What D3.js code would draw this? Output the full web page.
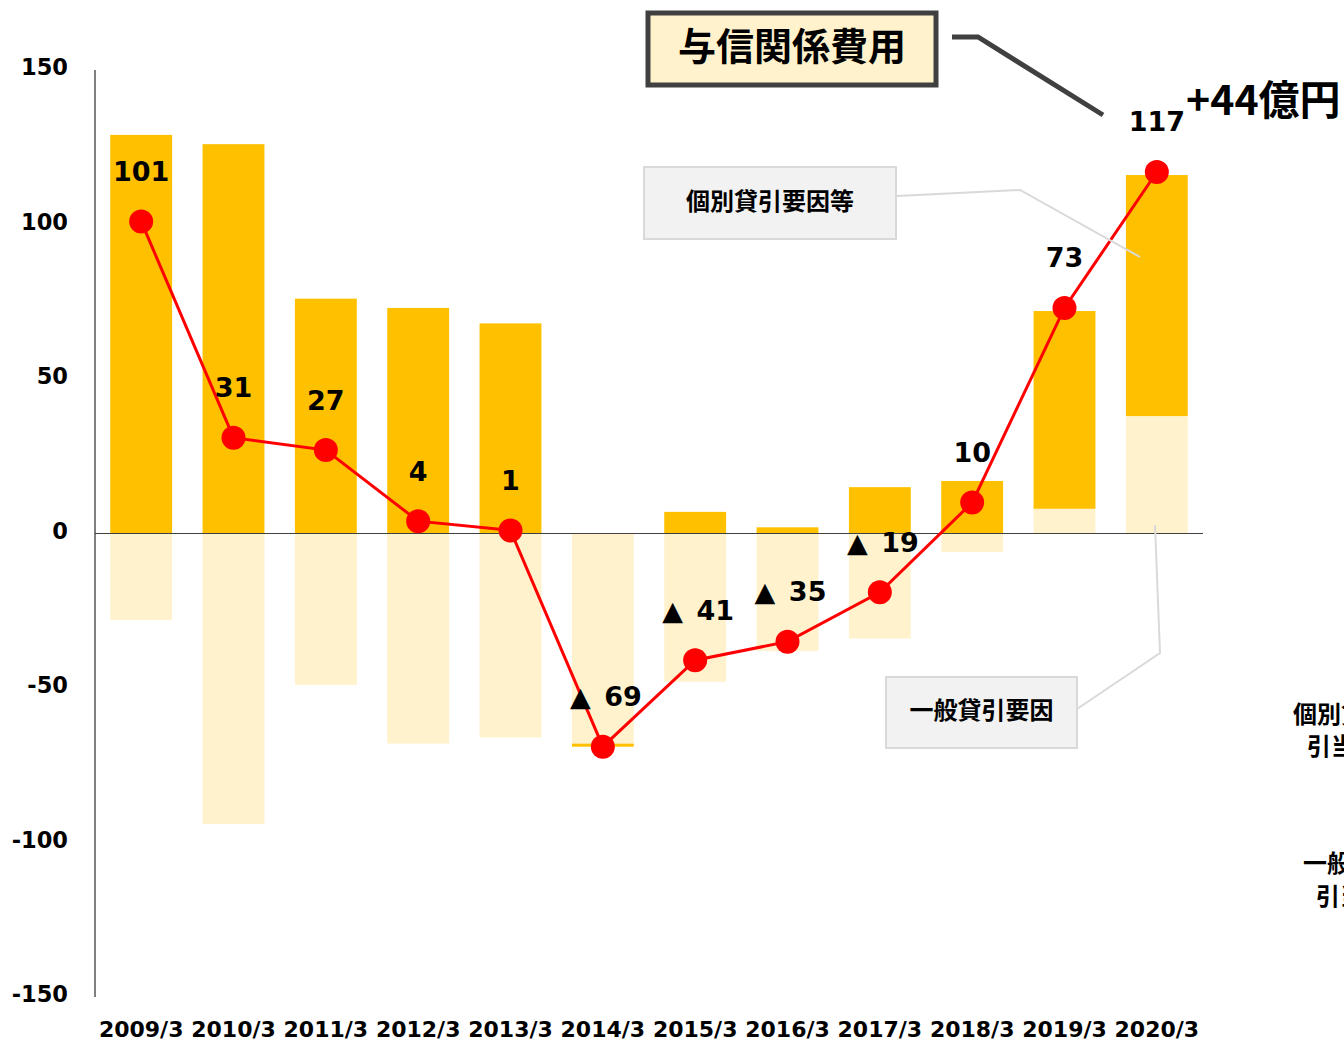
<!DOCTYPE html>
<html>
<head>
<meta charset="utf-8">
<script src="https://cdn.jsdelivr.net/npm/d3@7"></script>
<style>
  body { margin: 0; background: #fff; overflow: hidden; }
  svg { display: block; }
  text { font-family: "DejaVu Sans", "Noto Sans CJK JP", sans-serif; font-weight: bold; fill: #000; }
  .jp { font-family: "Noto Sans CJK JP", sans-serif; font-weight: 700; }
</style>
</head>
<body>
<svg id="chart"></svg>
<script>
// data
const years = ['2009/3', '2010/3', '2011/3', '2012/3', '2013/3', '2014/3',
  '2015/3', '2016/3', '2017/3', '2018/3', '2019/3', '2020/3']
// 個別貸引要因等 (dark)
const individual = [129, 126, 76, 73, 68, -1, 7, 2, 15, 17, 64, 78]
// 一般貸引要因 (light)
const general = [-28, -94, -49, -68, -66, -68, -48, -38, -34, -6, 8, 38]
// 与信関係費用 (line)
const totals = [101, 31, 27, 4, 1, -69, -41, -35, -19, 10, 73, 117]
const yTicks = [150, 100, 50, 0, -50, -100, -150]

const width = 1344
const height = 1043

const svg = d3.select('#chart')
  .attr('width', width)
  .attr('height', height)
  .attr('viewBox', [0, 0, width, height])

const x = d3.scaleBand()
  .domain(years)
  .range([95, 1203])
  .paddingInner(0.33)
  .paddingOuter(0.165)

const y = d3.scaleLinear()
  .domain([-150, 150])
  .range([997, 70])

const rows = years.map((year, i) => ({
  year,
  general: general[i],
  individual: individual[i],
  total: totals[i],
}))

// stacked bars, diverging around zero
const stack = d3.stack()
  .keys(['general', 'individual'])
  .offset(d3.stackOffsetDiverging)
const colors = { general: '#FFF2CC', individual: '#FFC000' }

svg.append('g')
  .selectAll('g')
  .data(stack(rows))
  .join('g')
  .attr('fill', (s) => colors[s.key])
  .selectAll('rect')
  .data((s) => s)
  .join('rect')
  .attr('x', (d) => x(d.data.year))
  .attr('width', x.bandwidth())
  .attr('y', (d) => y(Math.max(d[0], d[1])))
  .attr('height', (d) => Math.abs(y(d[0]) - y(d[1])))

// y axis line
svg.append('line')
  .attr('x1', 95).attr('x2', 95)
  .attr('y1', y(150)).attr('y2', y(-150))
  .attr('stroke', '#000')
  .attr('stroke-width', 1)

// zero line
svg.append('line')
  .attr('x1', 95).attr('x2', 1203)
  .attr('y1', y(0)).attr('y2', y(0))
  .attr('stroke', '#404040')
  .attr('stroke-width', 1.2)

// y tick labels
svg.append('g')
  .selectAll('text')
  .data(yTicks)
  .join('text')
  .attr('x', 68)
  .attr('y', (d) => y(d) - 3)
  .attr('text-anchor', 'end')
  .attr('dominant-baseline', 'central')
  .attr('font-size', 22.5)
  .text((d) => d)

// x labels
svg.append('g')
  .selectAll('text')
  .data(years)
  .join('text')
  .attr('x', (d) => x(d) + x.bandwidth() / 2)
  .attr('y', 1029)
  .attr('text-anchor', 'middle')
  .attr('dominant-baseline', 'central')
  .attr('font-size', 22)
  .text((d) => d)

// total line
const cx = (d) => x(d.year) + x.bandwidth() / 2
const line = d3.line()
  .x(cx)
  .y((d) => y(d.total))

svg.append('path')
  .datum(rows)
  .attr('fill', 'none')
  .attr('stroke', '#FF0000')
  .attr('stroke-width', 3)
  .attr('d', line)

svg.append('g')
  .selectAll('circle')
  .data(rows)
  .join('circle')
  .attr('cx', cx)
  .attr('cy', (d) => y(d.total))
  .attr('r', 12)
  .attr('fill', '#FF0000')

// value labels
svg.append('g')
  .selectAll('text')
  .data(rows)
  .join('text')
  .attr('x', (d) => cx(d) + (d.total < 0 ? 3 : 0))
  .attr('y', (d) => y(d.total) - 50)
  .attr('text-anchor', 'middle')
  .attr('dominant-baseline', 'central')
  .attr('font-size', 27)
  .text((d) => (d.total < 0 ? '▲\u2002' + Math.abs(d.total) : d.total))

// title box
svg.append('rect')
  .attr('x', 648).attr('y', 13)
  .attr('width', 288).attr('height', 72)
  .attr('fill', '#FFF2CC')
  .attr('stroke', '#404040')
  .attr('stroke-width', 5)
svg.append('text')
  .attr('class', 'jp')
  .attr('x', 792).attr('y', 43)
  .attr('text-anchor', 'middle')
  .attr('dominant-baseline', 'central')
  .attr('font-size', 38)
  .text('与信関係費用')
svg.append('polyline')
  .attr('points', '952,37 978,37 1103,115')
  .attr('fill', 'none')
  .attr('stroke', '#404040')
  .attr('stroke-width', 5)
svg.append('text')
  .attr('class', 'jp')
  .attr('x', 1186).attr('y', 97)
  .attr('dominant-baseline', 'central')
  .attr('font-size', 41)
  .text('+44億円')

// callouts
const callouts = [
  { label: '個別貸引要因等', x: 644, y: 167, w: 252, h: 72, pts: '897,196 1020,190 1140,257' },
  { label: '一般貸引要因', x: 886, y: 677, w: 191, h: 71, pts: '1077,709 1160,653 1155,525' },
]
callouts.forEach((c) => {
  svg.append('polyline')
    .attr('points', c.pts)
    .attr('fill', 'none')
    .attr('stroke', '#D9D9D9')
    .attr('stroke-width', 2)
  svg.append('rect')
    .attr('x', c.x).attr('y', c.y)
    .attr('width', c.w).attr('height', c.h)
    .attr('fill', '#F2F2F2')
    .attr('stroke', '#D9D9D9')
    .attr('stroke-width', 2)
  svg.append('text')
    .attr('class', 'jp')
    .attr('x', c.x + c.w / 2).attr('y', c.y + c.h / 2 - 4)
    .attr('text-anchor', 'middle')
    .attr('dominant-baseline', 'central')
    .attr('font-size', 24)
    .text(c.label)
})

// legend text cut off at the right edge, as in the source
const sideLabels = [
  { text: '個別貸倒', x: 1293, y: 712 },
  { text: '引当金', x: 1307, y: 744 },
  { text: '一般貸倒', x: 1303, y: 861 },
  { text: '引当金', x: 1316, y: 894 },
]
svg.append('g')
  .selectAll('text')
  .data(sideLabels)
  .join('text')
  .attr('class', 'jp')
  .attr('x', (d) => d.x)
  .attr('y', (d) => d.y)
  .attr('dominant-baseline', 'central')
  .attr('font-size', 24)
  .text((d) => d.text)
</script>
</body>
</html>
